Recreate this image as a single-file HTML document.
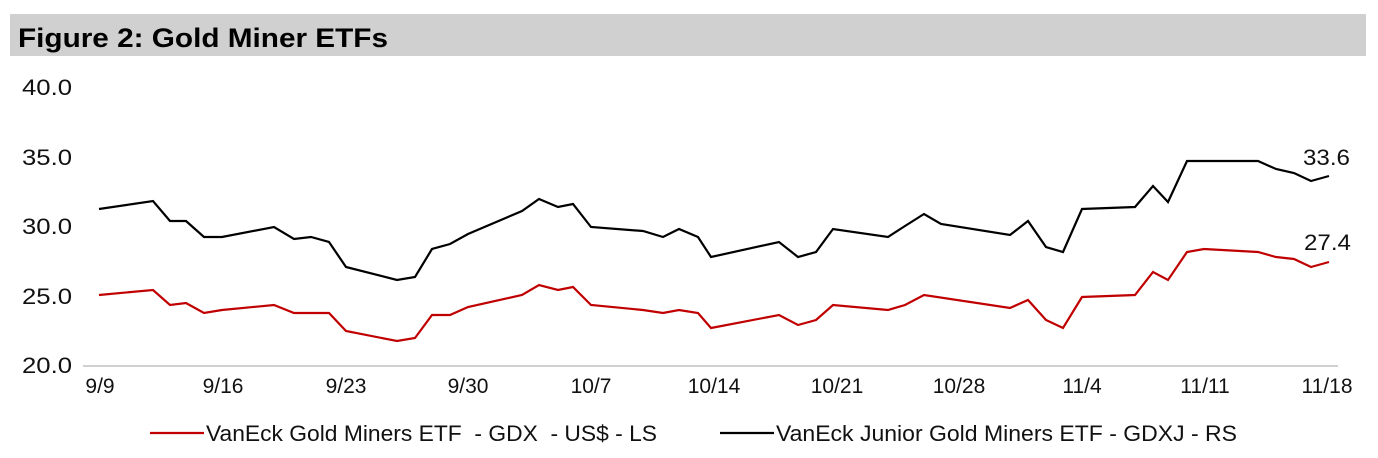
<!DOCTYPE html>
<html><head><meta charset="utf-8"><style>
body{margin:0;background:#fff;width:1378px;height:453px;overflow:hidden;font-family:"Liberation Sans",Arial,sans-serif}
</style></head><body>
<svg width="1378" height="453" xmlns="http://www.w3.org/2000/svg" font-family="Liberation Sans, Arial, sans-serif">
<rect x="10" y="14" width="1356" height="42" fill="#d0d0d0"/>
<text x="18" y="47" font-size="27" font-weight="bold" fill="#000" textLength="370" lengthAdjust="spacingAndGlyphs">Figure 2: Gold Miner ETFs</text>
<g font-size="22" fill="#111">
<text x="22" y="95" textLength="50" lengthAdjust="spacingAndGlyphs">40.0</text><text x="22" y="165" textLength="50" lengthAdjust="spacingAndGlyphs">35.0</text><text x="22" y="234" textLength="50" lengthAdjust="spacingAndGlyphs">30.0</text><text x="22" y="304" textLength="50" lengthAdjust="spacingAndGlyphs">25.0</text><text x="22" y="373" textLength="50" lengthAdjust="spacingAndGlyphs">20.0</text>
</g>
<line x1="83" y1="366" x2="1338" y2="366" stroke="#d0d0d0" stroke-width="2"/>
<g font-size="21" fill="#111" text-anchor="middle">
<text x="100" y="393">9/9</text><text x="223" y="393">9/16</text><text x="346" y="393">9/23</text><text x="468" y="393">9/30</text><text x="591" y="393">10/7</text><text x="714" y="393">10/14</text><text x="837" y="393">10/21</text><text x="959" y="393">10/28</text><text x="1082" y="393">11/4</text><text x="1205" y="393">11/11</text><text x="1327" y="393">11/18</text>
</g>
<polyline fill="none" stroke="#000" stroke-width="2.2" points="99,209 153,201 170,221 186,221 204,237 222,237 274,227 294,239 311,237 329,242 346,267 397,280 415,277 432,249 450,244 468,234 522,211 539,199 558,207 573,204 591,227 643,231 663,237 679,229 698,237 711,257 779,242 798,257 816,252 833,229 888,237 905,226 924,214 941,224 1010,235 1028,221 1046,247 1063,252 1082,209 1135,207 1153,186 1168,202 1187,161 1258,161 1276,169 1294,173 1311,181 1329,176"/>
<polyline fill="none" stroke="#c00000" stroke-width="2.2" points="99,295 153,290 170,305 186,303 204,313 222,310 274,305 294,313 329,313 346,331 397,341 415,338 432,315 450,315 468,307 522,295 539,285 558,290 573,287 591,305 643,310 663,313 679,310 698,313 711,328 779,315 798,325 816,320 833,305 888,310 905,305 924,295 1010,308 1028,300 1046,320 1063,328 1082,297 1135,295 1153,272 1168,280 1187,252 1204,249 1258,252 1276,257 1294,259 1311,267 1329,262"/>
<g font-size="22" fill="#111">
<text x="1303" y="165" textLength="47" lengthAdjust="spacingAndGlyphs">33.6</text><text x="1304" y="250" textLength="47" lengthAdjust="spacingAndGlyphs">27.4</text>
</g>
<line x1="150" y1="433" x2="204" y2="433" stroke="#c00000" stroke-width="2.2"/>
<text x="206" y="441" font-size="22" fill="#111" xml:space="preserve" textLength="451" lengthAdjust="spacingAndGlyphs">VanEck Gold Miners ETF  - GDX  - US$ - LS</text>
<line x1="720" y1="433" x2="774" y2="433" stroke="#000" stroke-width="2.2"/>
<text x="776" y="441" font-size="22" fill="#111" textLength="461" lengthAdjust="spacingAndGlyphs">VanEck Junior Gold Miners ETF - GDXJ - RS</text>
</svg>
</body></html>
